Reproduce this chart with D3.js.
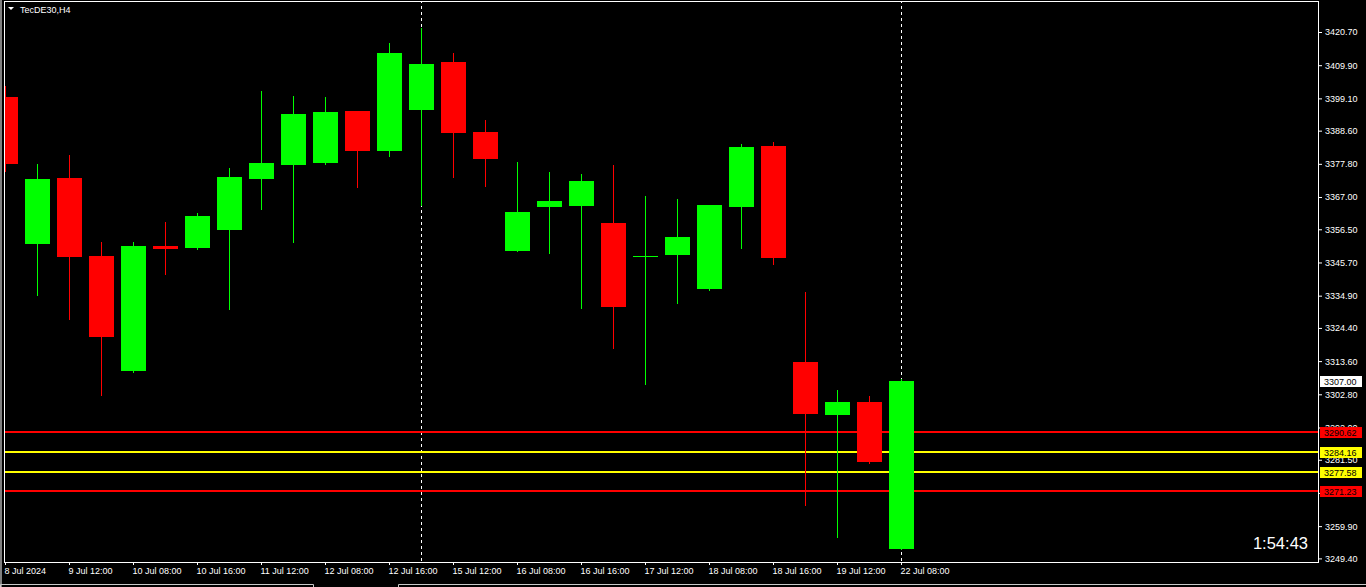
<!DOCTYPE html>
<html lang="en">
<head>
    <meta charset="UTF-8">
    <title>TecDE30,H4</title>
    <script src="https://cdn.jsdelivr.net/npm/d3@7/dist/d3.min.js"></script>
    <style>
        html, body {
            margin: 0;
            padding: 0;
            background: #000;
            overflow: hidden;
        }
        svg {
            display: block;
            font-family: "Liberation Sans", Arial, sans-serif;
        }
    </style>
</head>
<body>
<script>

    // H4 candles, one per bar, left to right
    var opens  = [3399.55, 3351.71, 3373.19, 3347.81, 3310.39, 3351.06, 3350.41, 3356.27, 3372.86, 3377.42,
                  3378.07, 3394.99, 3381.98, 3395.32, 3410.94, 3388.16, 3349.44, 3363.75, 3364.08, 3358.55,
                  3347.48, 3348.13, 3337.07, 3363.75, 3383.60, 3313.31, 3296.07, 3300.30, 3252.46];
    var highs  = [3403.13, 3377.75, 3380.67, 3352.36, 3352.36, 3358.87, 3361.80, 3376.44, 3401.50, 3399.87,
                  3399.55, 3395.10, 3417.12, 3421.90, 3413.87, 3392.06, 3378.40, 3375.14, 3374.49, 3377.42,
                  3367.33, 3366.36, 3364.50, 3384.25, 3384.90, 3336.09, 3304.20, 3302.25, 3307.90];
    var lows   = [3375.47, 3335.12, 3327.31, 3302.58, 3310.20, 3341.95, 3350.20, 3330.56, 3363.10, 3352.36,
                  3377.90, 3370.26, 3380.35, 3364.40, 3373.52, 3370.59, 3349.30, 3348.78, 3330.89, 3317.87,
                  3306.16, 3332.51, 3336.90, 3350.41, 3345.20, 3266.78, 3256.37, 3280.60, 3252.30];
    var closes = [3377.75, 3372.86, 3347.48, 3321.45, 3351.06, 3350.09, 3360.82, 3373.52, 3378.07, 3394.02,
                  3394.67, 3381.98, 3413.87, 3410.29, 3387.83, 3379.37, 3362.13, 3365.71, 3372.21, 3331.21,
                  3347.81, 3353.99, 3364.40, 3383.28, 3347.16, 3296.39, 3300.30, 3280.77, 3307.00];

    // time labels, one on every second bar
    var timeLabels = ["8 Jul 2024", "9 Jul 12:00", "10 Jul 08:00", "10 Jul 16:00", "11 Jul 12:00",
                      "12 Jul 08:00", "12 Jul 16:00", "15 Jul 12:00", "16 Jul 08:00", "16 Jul 16:00",
                      "17 Jul 12:00", "18 Jul 08:00", "18 Jul 16:00", "19 Jul 12:00", "22 Jul 08:00"];

    // price scale labels
    var priceTicks = [3420.70, 3409.90, 3399.10, 3388.60, 3377.80, 3367.00, 3356.50, 3345.70, 3334.90,
                      3324.40, 3313.60, 3302.80, 3292.00, 3281.50, 3270.70, 3259.90, 3249.40];

    // horizontal levels (outer pair red, inner pair yellow)
    var levels = [3290.62, 3284.16, 3277.58, 3271.23];

    // bars that carry a period separator
    var separators = [13, 28];

    var timer = "1:54:43";

    var W = 1366, H = 587;
    var plot = {left: 5, right: 1318, top: 2, bottom: 562};

    var svg = d3.select("body").append("svg")
        .attr("width", W)
        .attr("height", H);

    svg.append("rect")
        .attr("width", W).attr("height", H)
        .attr("fill", "#000");

    var x = d3.scaleLinear()
        .domain([0, opens.length - 1])
        .range([5, 5 + 32 * (opens.length - 1)]);

    var y = d3.scaleLinear()
        .domain([3249.40, 3420.70])
        .range([558.4, 32]);

    var py = function(v) { return Math.round(y(v)); };

    var candles = opens.map(function(o, i) {
        return {i: i, o: o, h: highs[i], l: lows[i], c: closes[i]};
    });

    svg.append("clipPath").attr("id", "plotclip")
        .append("rect")
        .attr("x", plot.left).attr("y", plot.top)
        .attr("width", plot.right - plot.left).attr("height", plot.bottom - plot.top);

    var chart = svg.append("g").attr("clip-path", "url(#plotclip)");

    // period separators
    chart.selectAll("line.sep")
        .data(separators)
        .enter().append("line")
        .attr("class", "sep")
        .attr("x1", d => x(d) + 0.5).attr("x2", d => x(d) + 0.5)
        .attr("y1", 0).attr("y2", plot.bottom)
        .attr("stroke", "#fff")
        .attr("stroke-dasharray", "3,3");

    // levels
    chart.selectAll("line.level")
        .data(levels)
        .enter().append("line")
        .attr("class", "level")
        .attr("x1", plot.left).attr("x2", plot.right)
        .attr("y1", d => py(d)).attr("y2", d => py(d))
        .attr("stroke", (d, i) => (i === 0 || i === levels.length - 1) ? "#ff0000" : "#ffff00")
        .attr("stroke-width", 2);

    var col = d => d.c >= d.o ? "#00ff00" : "#ff0000";

    var bars = chart.selectAll("g.candle")
        .data(candles)
        .enter().append("g")
        .attr("class", "candle");

    bars.append("line")
        .attr("x1", d => x(d.i) + 0.5).attr("x2", d => x(d.i) + 0.5)
        .attr("y1", d => py(d.h)).attr("y2", d => py(d.l) + 1)
        .attr("stroke", col);

    bars.append("rect")
        .attr("x", d => x(d.i) - 12)
        .attr("y", d => py(Math.max(d.o, d.c)))
        .attr("width", 25)
        .attr("height", d => Math.max(1, py(Math.min(d.o, d.c)) - py(Math.max(d.o, d.c))))
        .attr("fill", col);

    // frame
    svg.append("rect")
        .attr("x", plot.left - 0.5).attr("y", plot.top - 0.5)
        .attr("width", plot.right - plot.left + 1).attr("height", plot.bottom - plot.top + 1)
        .attr("fill", "none")
        .attr("stroke", "#fff");

    svg.append("rect")
        .attr("x", 0).attr("y", 0).attr("width", 2).attr("height", H)
        .attr("fill", "#808080");

    // price axis
    var yAxis = d3.axisRight(y)
        .tickValues(priceTicks)
        .tickFormat(d3.format(".2f"))
        .tickSize(3)
        .tickSizeOuter(0)
        .tickPadding(3);

    var gy = svg.append("g")
        .attr("transform", "translate(" + (plot.right + 1) + ",0)")
        .call(yAxis);
    gy.select(".domain").remove();
    gy.selectAll("line").attr("stroke", "#fff");
    gy.selectAll("text")
        .attr("fill", "#fff")
        .style("font-size", "9px")
        .style("font-family", "'Liberation Sans', Arial, sans-serif");

    // time axis
    var xAxis = d3.axisBottom(x)
        .tickValues(timeLabels.map((d, i) => i * 2))
        .tickFormat((d, i) => timeLabels[i])
        .tickSize(3)
        .tickSizeOuter(0)
        .tickPadding(3);

    var gx = svg.append("g")
        .attr("transform", "translate(0," + plot.bottom + ")")
        .call(xAxis);
    gx.select(".domain").remove();
    gx.selectAll("line").attr("stroke", "#fff");
    gx.selectAll("text")
        .attr("fill", "#fff")
        .attr("text-anchor", "start")
        .attr("x", -1)
        .style("font-size", "9px")
        .style("font-family", "'Liberation Sans', Arial, sans-serif");

    // level price tags
    var tags = levels.map((v, i) => ({v: v, bg: (i === 0 || i === levels.length - 1) ? "#ff0000" : "#ffff00"}));
    tags.push({v: closes[closes.length - 1], bg: "#ffffff"});

    var tag = svg.selectAll("g.tag")
        .data(tags)
        .enter().append("g")
        .attr("class", "tag")
        .attr("transform", d => "translate(1320," + py(d.v) + ")");

    tag.append("rect")
        .attr("x", 0).attr("y", -5)
        .attr("width", 42).attr("height", 11)
        .attr("fill", d => d.bg);

    tag.append("text")
        .attr("x", 4).attr("y", 4)
        .attr("fill", "#000")
        .style("font-size", "9px")
        .text(d => d3.format(".2f")(d.v));

    // title
    svg.append("path")
        .attr("d", "M8,7 L14,7 L11,10 Z")
        .attr("fill", "#fff");
    svg.append("text")
        .attr("x", 20).attr("y", 12.5)
        .attr("fill", "#fff")
        .style("font-size", "9px")
        .text("TecDE30,H4");

    // bar timer
    svg.append("text")
        .attr("x", 1308).attr("y", 549)
        .attr("text-anchor", "end")
        .attr("fill", "#fff")
        .style("font-size", "16.5px")
        .text(timer);

    // tab strip at the bottom
    svg.append("path")
        .attr("d", "M0.5,587 V584.5 H313.5 V587 M398.5,587 V584.5 H1366")
        .attr("fill", "none")
        .attr("stroke", "#c8c8c8");

</script>
</body>
</html>
